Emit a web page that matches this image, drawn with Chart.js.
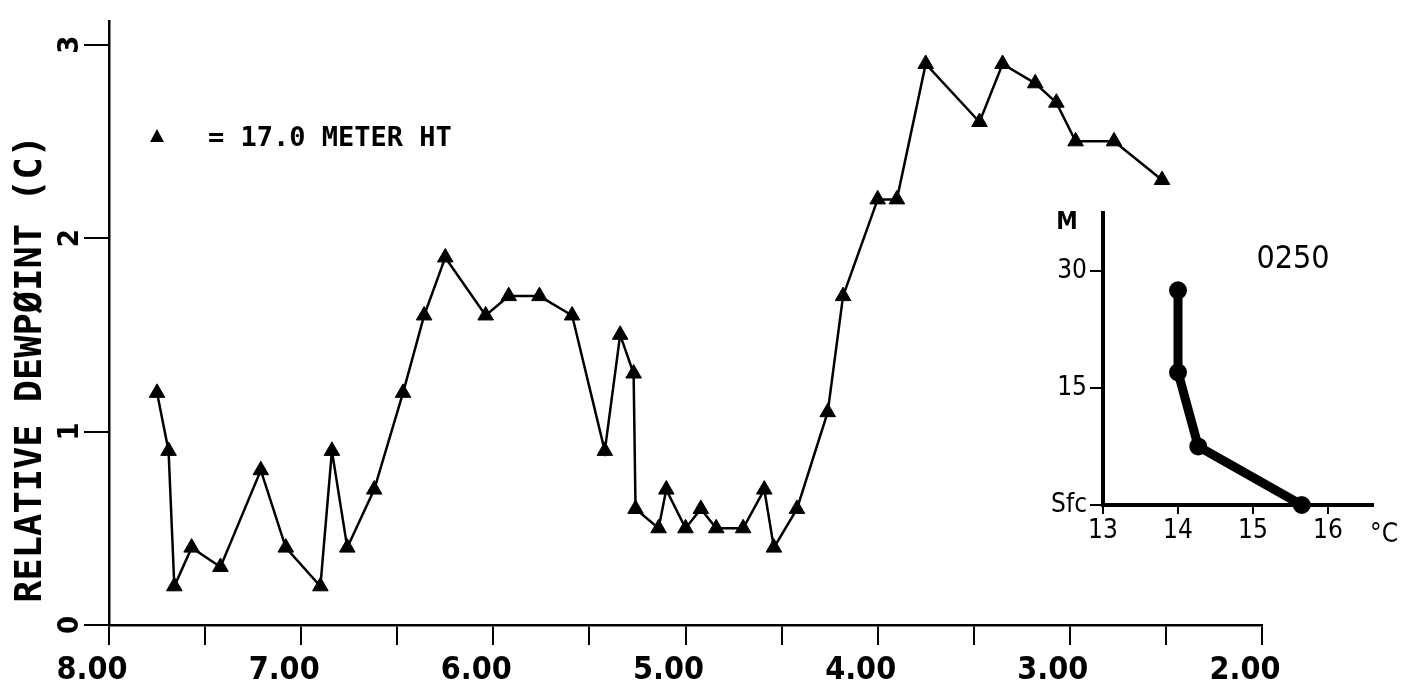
<!DOCTYPE html>
<html lang="en">
<head>
<meta charset="UTF-8">
<title>Relative Dewpoint</title>
<script src="https://cdn.jsdelivr.net/npm/chart.js@4.4.1/dist/chart.umd.min.js"></script>
<style>
    html, body { margin: 0; padding: 0; background: #fff; }
    .wrap { position: relative; width: 1418px; height: 690px; }
    #mainChart { position: absolute; left: 0; top: 0; }
    #insetChart { position: absolute; left: 1030px; top: 190px; }
</style>
</head>
<body>
<div class="wrap">
    <canvas id="mainChart" width="1418" height="690"></canvas>
    <canvas id="insetChart" width="388" height="370"></canvas>
</div>

<script>
    // main series: relative dewpoint at 17.0 m
    const hours = [7.75, 7.69, 7.66, 7.57, 7.42, 7.21, 7.08, 6.90, 6.84, 6.76,
                   6.62, 6.47, 6.36, 6.25, 6.04, 5.92, 5.76, 5.59, 5.42, 5.34,
                   5.27, 5.26, 5.14, 5.10, 5.00, 4.92, 4.84, 4.70, 4.59, 4.54,
                   4.42, 4.26, 4.18, 4.00, 3.90, 3.75, 3.47, 3.35, 3.18, 3.07,
                   2.97, 2.77, 2.52];
    const relDewpoint = [1.2, 0.9, 0.2, 0.4, 0.3, 0.8, 0.4, 0.2, 0.9, 0.4,
                         0.7, 1.2, 1.6, 1.9, 1.6, 1.7, 1.7, 1.6, 0.9, 1.5,
                         1.3, 0.6, 0.5, 0.7, 0.5, 0.6, 0.5, 0.5, 0.7, 0.4,
                         0.6, 1.1, 1.7, 2.2, 2.2, 2.9, 2.6, 2.9, 2.8, 2.7,
                         2.5, 2.5, 2.3];

    const xTickValues = [8, 7.5, 7, 6.5, 6, 5.5, 5, 4.5, 4, 3.5, 3, 2.5, 2];
    const xTickLabels = ['8.00', '', '7.00', '', '6.00', '', '5.00', '', '4.00', '', '3.00', '', '2.00'];
    const yTickValues = [0, 1, 2, 3];
    const yTickLabels = ['0', '1', '2', '3'];

    // inset profile at 0250
    const insetTemp = [15.65, 14.27, 14.0, 14.0];
    const insetHeight = [0, 7.5, 17, 27.5];
    const insetXTicks = [13, 14, 15, 16];
    const insetYTicks = [0, 15, 30];
    const insetYLabels = ['Sfc', '15', '30'];

    const MONO = '"DejaVu Sans Mono", monospace';
    const COND = '"DejaVu Sans Condensed", "DejaVu Sans", sans-serif';
    const NARROW = '"Liberation Sans Narrow", "DejaVu Sans Condensed", sans-serif';

    // legend drawn inside the plot, top left
    const legendPlugin = {
        id: 'triLegend',
        afterDraw(chart) {
            const ctx = chart.ctx;
            ctx.save();
            ctx.fillStyle = '#000';
            ctx.beginPath();
            ctx.moveTo(157, 129);
            ctx.lineTo(164, 142);
            ctx.lineTo(150, 142);
            ctx.closePath();
            ctx.fill();
            ctx.font = 'bold 27px ' + MONO;
            ctx.textBaseline = 'middle';
            ctx.fillText('= 17.0 METER HT', 208, 139);
            ctx.restore();
        }
    };

    new Chart(document.getElementById('mainChart'), {
        type: 'line',
        data: {
            datasets: [{
                data: hours.map((h, i) => ({ x: h, y: relDewpoint[i] })),
                borderColor: '#000',
                borderWidth: 2.5,
                tension: 0,
                pointStyle: 'triangle',
                pointRadius: 9,
                pointBackgroundColor: '#000',
                pointBorderColor: '#000',
                pointBorderWidth: 1
            }]
        },
        options: {
            responsive: false,
            animation: false,
            layout: { padding: { left: 0, right: 156, top: 8, bottom: 0 } },
            plugins: { legend: { display: false }, tooltip: { enabled: false } },
            scales: {
                x: {
                    type: 'linear',
                    reverse: true,
                    min: 2,
                    max: 8,
                    afterBuildTicks: s => { s.ticks = xTickValues.map(v => ({ value: v })); },
                    afterFit: s => { s.height = 65; },
                    ticks: {
                        autoSkip: false,
                        maxRotation: 0,
                        labelOffset: -17,
                        padding: 6,
                        color: '#000',
                        font: { family: COND, size: 32, weight: 'bold' },
                        callback: (v, i) => xTickLabels[i]
                    },
                    grid: { drawOnChartArea: false, tickLength: 20, color: '#000', lineWidth: 2 },
                    border: { color: '#000', width: 2.5 }
                },
                y: {
                    min: 0,
                    max: 3.12,
                    afterBuildTicks: s => { s.ticks = yTickValues.map(v => ({ value: v })); },
                    afterFit: s => { s.width = 109; },
                    ticks: {
                        minRotation: 90,
                        maxRotation: 90,
                        crossAlign: 'center',
                        padding: 4,
                        color: '#000',
                        font: { family: COND, size: 29, weight: 'bold' },
                        callback: (v, i) => yTickLabels[i]
                    },
                    grid: { drawOnChartArea: false, tickLength: 25, color: '#000', lineWidth: 2 },
                    border: { color: '#000', width: 2.5 },
                    title: {
                        display: true,
                        text: ' RELATIVE DEWPØINT (C)',
                        align: 'start',
                        color: '#000',
                        font: { family: MONO, size: 37, weight: 'bold' },
                        padding: { top: 9, bottom: 0 }
                    }
                }
            }
        },
        plugins: [legendPlugin]
    });

    // inset labels: axis unit, time stamp
    const insetText = {
        id: 'insetText',
        afterDraw(chart) {
            const { ctx, chartArea } = chart;
            ctx.save();
            ctx.fillStyle = '#000';
            ctx.textBaseline = 'middle';
            ctx.textAlign = 'center';
            ctx.font = 'bold 24px ' + COND;
            ctx.fillText('M', chartArea.left - 36, chartArea.top + 10);
            ctx.font = '32px ' + NARROW;
            ctx.fillText('0250', 263, 70);
            ctx.textAlign = 'left';
            ctx.font = '26px ' + NARROW;
            ctx.fillText('°C', chartArea.right - 3, chartArea.bottom + 30);
            ctx.restore();
        }
    };

    new Chart(document.getElementById('insetChart'), {
        type: 'line',
        data: {
            datasets: [{
                data: insetTemp.map((t, i) => ({ x: t, y: insetHeight[i] })),
                borderColor: '#000',
                borderWidth: 9,
                tension: 0,
                clip: false,
                pointRadius: 8,
                pointBackgroundColor: '#000',
                pointBorderColor: '#000',
                pointBorderWidth: 2
            }]
        },
        options: {
            responsive: false,
            animation: false,
            layout: { padding: { left: 0, right: 45, top: 23, bottom: 0 } },
            plugins: { legend: { display: false }, tooltip: { enabled: false } },
            scales: {
                x: {
                    type: 'linear',
                    min: 13,
                    max: 16.6,
                    afterBuildTicks: s => { s.ticks = insetXTicks.map(v => ({ value: v })); },
                    afterFit: s => { s.height = 55; },
                    ticks: {
                        autoSkip: false,
                        maxRotation: 0,
                        padding: 2,
                        color: '#000',
                        font: { family: NARROW, size: 26 }
                    },
                    grid: { drawOnChartArea: false, tickLength: 9, color: '#000', lineWidth: 2 },
                    border: { color: '#000', width: 4 }
                },
                y: {
                    min: 0,
                    max: 37.4,
                    afterBuildTicks: s => { s.ticks = insetYTicks.map(v => ({ value: v })); },
                    afterFit: s => { s.width = 73; },
                    ticks: {
                        padding: 3,
                        color: '#000',
                        font: { family: NARROW, size: 26 },
                        callback: (v, i) => insetYLabels[i]
                    },
                    grid: { drawOnChartArea: false, tickLength: 13, color: '#000', lineWidth: 2 },
                    border: { color: '#000', width: 4 }
                }
            }
        },
        plugins: [insetText]
    });
</script>
</body>
</html>
